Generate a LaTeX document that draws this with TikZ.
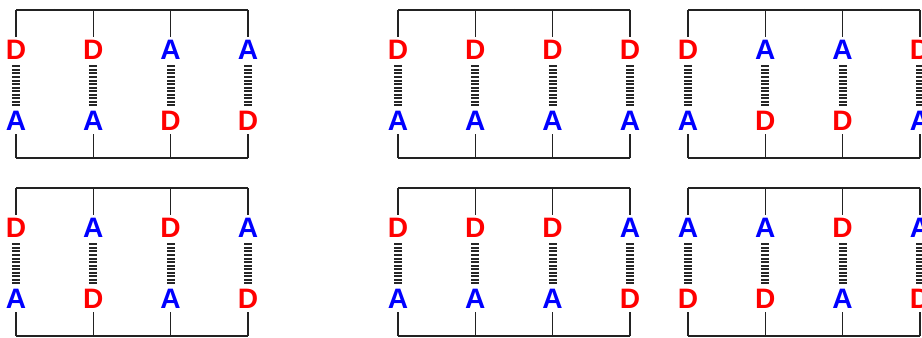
\documentclass[tikz,border=0pt]{standalone}
\usepackage{fontspec}
\setmainfont{Liberation Sans}
\usepackage{tikz}
\usetikzlibrary{positioning}
\definecolor{donorRed}{HTML}{FF0000}
\definecolor{acceptorBlue}{HTML}{0000FF}
\definecolor{backboneGray}{HTML}{222222}

\begin{document}
\begin{tikzpicture}[x=0.03cm, y=-0.03cm,
    base/.style={font=\fontsize{24}{24}\selectfont\bfseries, inner sep=2.5pt,
      text height=17pt, text depth=0pt},
    D/.style={base, text=donorRed},
    A/.style={base, text=acceptorBlue},
    bb/.style={draw=backboneGray, line width=1.2pt},
    tick/.style={draw=backboneGray, line width=0.6pt},
    hb/.style={draw=black!85, line width=6.8pt, dash pattern=on 1.7pt off 1.3pt,
      shorten <=2pt, shorten >=2pt}]
  \useasboundingbox (0,0) rectangle (922,338);
  % six duplexes: offset x / offset y / base pairs (top/bottom) / name
  \foreach \px/\py/\pairs/\pn in {
      16/10/{D/A,D/A,A/D,A/D}/a,
      398/10/{D/A,D/A,D/A,D/A}/b,
      688/10/{D/A,A/D,A/D,D/A}/c,
      16/188/{D/A,A/D,D/A,A/D}/d,
      398/188/{D/A,D/A,D/A,A/D}/e,
      688/188/{A/D,A/D,D/A,A/D}/f} {
    \begin{scope}[shift={(\px,\py)}]
    \foreach \t/\b [count=\i] in \pairs {
      \coordinate (\pn-u\i) at ({(\i-1)*77.3}, 0);
      \coordinate (\pn-l\i) at ({(\i-1)*77.3}, 148);
      \node[\t] (\pn-t\i) at ({(\i-1)*77.3}, 40) {\t};
      \node[\b] (\pn-b\i) at ({(\i-1)*77.3}, 111) {\b};
      \draw[bb] (\pn-u\i) -- (\pn-t\i);
      \draw[bb] (\pn-b\i) -- (\pn-l\i);
      \draw[hb] (\pn-t\i) -- (\pn-b\i);
    }
    % backbones
    \draw[bb] (\pn-u1) -- (\pn-u4);
    \draw[bb] (\pn-l1) -- (\pn-l4);
    \foreach \m in {1,2,3} {
      \draw[tick] ({\m*77.3-38.65}, -1) -- ++(0,2);
      \draw[tick] ({\m*77.3-38.65}, 147) -- ++(0,2);
    }
    \end{scope}
  }
\end{tikzpicture}
\end{document}
